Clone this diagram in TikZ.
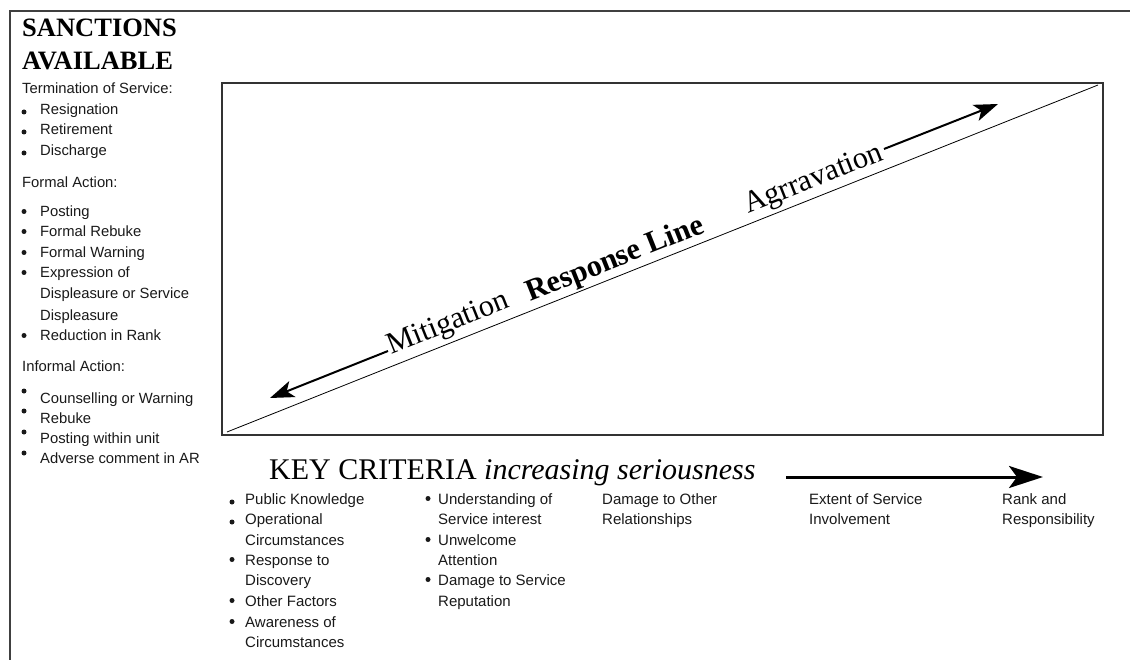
\documentclass[tikz,border=0pt]{standalone}
\usepackage{fontspec}
\setmainfont{Liberation Serif}
\newfontfamily\arial{Liberation Sans}
\usetikzlibrary{arrows.meta}
\begin{document}
\begin{tikzpicture}[x=1pt,y=-1pt,
  frameline/.style={line width=1.4pt,draw=black!75},
  lt/.style={anchor=base west,inner sep=0pt,font=\arial\fontsize{14.8}{17}\selectfont,text=black!90},
  bt/.style={anchor=base west,inner sep=0pt,font=\arial\fontsize{15}{18}\selectfont,text=black!90},
  bul/.style={circle,fill=black!90,inner sep=0pt,minimum size=5pt},
  slant/.style={anchor=base west,inner sep=0pt,rotate=21.72,font=\fontsize{30.5}{34}\selectfont},
  bigarrow/.style={line width=2pt,-{Stealth[length=24pt,width=17pt,inset=6pt]}},
  keyarrow/.style={line width=3pt,-{Stealth[length=34pt,width=22pt,inset=8pt]}}]
\useasboundingbox (0,0) rectangle (1130,660);

% outer frame lines
\coordinate (f0) at (10,11);
\coordinate (f1) at (1130,11);
\coordinate (f2) at (10,660);
\draw[frameline] (f1) -- (f0) -- (f2);

% heading
\node[anchor=base west,inner sep=0pt,font=\bfseries\fontsize{26.5}{30}\selectfont] (h1) at (22,37) {SANCTIONS};
\node[anchor=base west,inner sep=0pt,font=\bfseries\fontsize{26.5}{30}\selectfont] (h2) at (22,70) {AVAILABLE};

% left list text
\foreach \t/\x/\y [count=\i] in {
  Termination of Service:/22/94,
  Resignation/40/115, Retirement/40/135, Discharge/40/156,
  Formal Action:/22/188,
  Posting/40/217, Formal Rebuke/40/237, Formal Warning/40/258,
  Expression of/40/278, Displeasure or Service/40/299, Displeasure/40/320,
  Reduction in Rank/40/341,
  Informal Action:/22/371,
  Counselling or Warning/40/403, Rebuke/40/423, Posting within unit/40/443,
  Adverse comment in AR/40/463}
  \node[lt] (left\i) at (\x,\y) {\t};

% left bullets
\foreach \y [count=\i] in {112,132,153,211.5,231.5,252.5,272.5,335.5,391,411,432,453}
  \node[bul] (lb\i) at (24,\y) {};

% main box
\node[draw=black!80,line width=1.3pt,minimum width=881pt,minimum height=352pt,inner sep=0pt] (box) at (662.5,259) {};

% response line
\coordinate (d1) at (227,432);
\coordinate (d2) at (1098,85);
\draw[line width=0.8pt] (d1) -- (d2);

\node[slant] (mit) at (391,355) {Mitigation};
\node[slant,font=\bfseries\fontsize{30.5}{34}\selectfont] (resp) at (530,302) {Response Line};
\node[slant] (agg) at (748,214) {Agrravation};

\coordinate (m0) at (388,351);
\coordinate (m1) at (270,398);
\draw[bigarrow] (m0) -- (m1);
\coordinate (a0) at (884,149);
\coordinate (a1) at (998,104);
\draw[bigarrow] (a0) -- (a1);

% key criteria
\node[anchor=base west,inner sep=0pt,font=\fontsize{30}{34}\selectfont] (key) at (269,479) {KEY CRITERIA \textit{increasing seriousness}};
\coordinate (k0) at (786,477);
\coordinate (k1) at (1043,477);
\draw[keyarrow] (k0) -- (k1);

% bottom columns
\foreach \t/\x/\y [count=\i] in {
  Public Knowledge/245/504, Operational/245/524, Circumstances/245/545,
  Response to/245/565, Discovery/245/585, Other Factors/245/606,
  Awareness of/245/627, Circumstances/245/647,
  Understanding of/438/504, Service interest/438/524, Unwelcome/438/545,
  Attention/438/565, Damage to Service/438/585, Reputation/438/606,
  Damage to Other/602/504, Relationships/602/524,
  Extent of Service/809/504, Involvement/809/524,
  Rank and/1002/504, Responsibility/1002/524}
  \node[bt] (bot\i) at (\x,\y) {\t};

\foreach \x/\y [count=\i] in {232/502, 232/522, 232/559.5, 232/600.5, 232/621.5,
  428/498.5, 428/539.5, 428/579.5}
  \node[bul] (bb\i) at (\x,\y) {};
\end{tikzpicture}
\end{document}
